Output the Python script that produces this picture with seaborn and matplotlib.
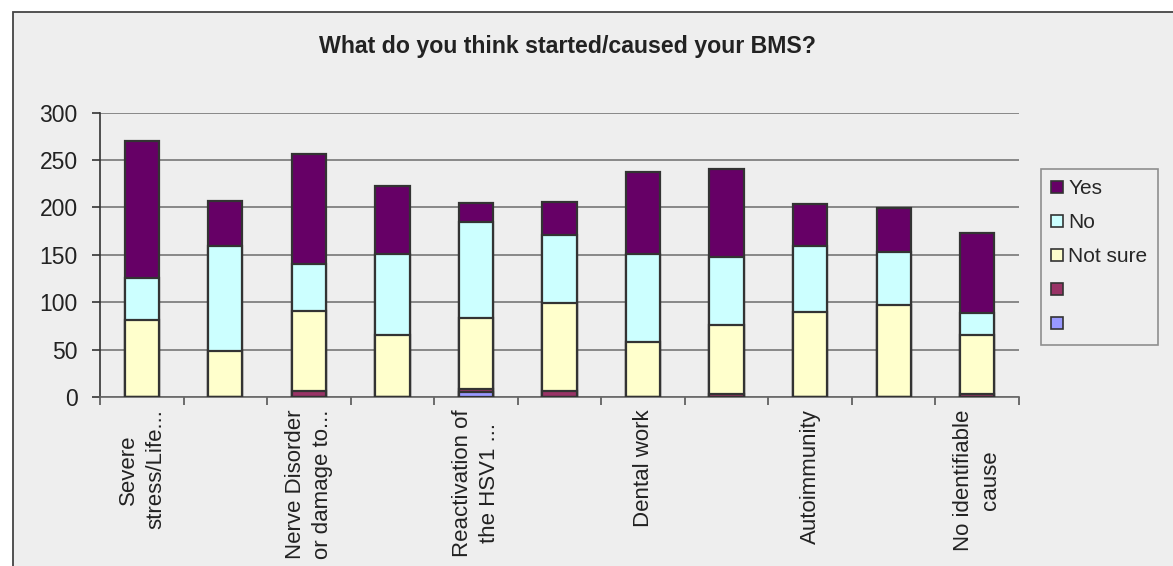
import numpy as np
import pandas as pd
import matplotlib
matplotlib.use("Agg")
import matplotlib.pyplot as plt
from matplotlib.patches import Patch, Rectangle
import seaborn as sns

# Data (stacked from bottom: series5, series4, Not sure, No, Yes)
tick_labels = ["Severe\nstress/Life...", "", "Nerve Disorder\nor damage to...", "",
               "Reactivation of\nthe HSV1 ...", "", "Dental work", "",
               "Autoimmunity", "", "No identifiable\ncause"]
series5 = [0, 0, 0, 0, 5, 0, 0, 0, 0, 0, 0]
series4 = [0, 0, 6, 0, 3, 6, 0, 3, 0, 0, 3]
not_sure = [81, 49, 85, 65, 75, 93, 58, 73, 90, 97, 62]
no = [45, 110, 49, 86, 102, 72, 93, 72, 69, 56, 24]
yes = [144, 48, 116, 71, 20, 35, 86, 92, 44, 46, 84]

series_names = ["", "", "Not sure", "No", "Yes"]
colors = ["#9999FF", "#993366", "#FFFFCC", "#CCFFFF", "#660066"]

sns.set_style("white")
plt.rcParams["font.family"] = ["Liberation Sans", "DejaVu Sans"]

fig = plt.figure(figsize=(11.73, 5.66), dpi=100)
fig.patch.set_facecolor("white")
# outer chart frame
fig.patches.append(Rectangle((13 / 1173, -0.05), 1.1, 1 - 12 / 566 + 0.05,
                             transform=fig.transFigure, facecolor="#EEEEEE",
                             edgecolor="#444444", lw=1.3, zorder=-10))

ax = fig.add_axes([100 / 1173, 1 - 397 / 566, 919 / 1173, 284.5 / 566])
ax.patch.set_alpha(0)

stack = np.cumsum(np.array([series5, series4, not_sure, no, yes]), axis=0)
x = np.arange(len(tick_labels))

# draw cumulative totals, tallest first, so each layer shows as a stacked segment
for i in range(len(stack) - 1, -1, -1):
    sns.barplot(x=x, y=stack[i], color=colors[i], width=0.41, edgecolor="#333333",
                linewidth=1.6, saturation=1, ax=ax, zorder=3)

ax.set_ylim(0, 300)
ax.set_xlim(-0.5, len(x) - 0.5)
ax.set_yticks(range(0, 301, 50))
ax.yaxis.grid(True, color="#777777", linewidth=1.2)
ax.set_axisbelow(True)
for s in ["top", "right"]:
    ax.spines[s].set_visible(False)
ax.spines["left"].set_color("#333333")
ax.spines["bottom"].set_color("#666666")
ax.spines["left"].set_linewidth(1.2)
ax.spines["bottom"].set_linewidth(1.2)

ax.tick_params(axis="y", length=6, width=1.2, color="#333333", pad=10,
               labelsize=16.5, labelcolor="#222222", direction="out", left=True)
ax.set_xticks(x)
ax.set_xticklabels(tick_labels, rotation=90, fontsize=16, color="#222222",
                   va="top", ha="center", multialignment="center", linespacing=1.4)
ax.tick_params(axis="x", length=0, pad=9)
ax.set_xticks(np.arange(-0.5, len(x), 1), minor=True)
ax.tick_params(axis="x", which="minor", length=6, width=1.2, color="#555555",
               direction="out", bottom=True)
ax.set_xlabel("")
ax.set_ylabel("")

fig.text(0.4838, 0.917, "What do you think started/caused your BMS?",
         ha="center", va="center", fontsize=16.7, fontweight="bold", color="#222222")

handles = [Patch(facecolor=colors[i], edgecolor="#333333", linewidth=1.2)
           for i in range(len(colors) - 1, -1, -1)]
labels = [series_names[i] for i in range(len(colors) - 1, -1, -1)]
leg = fig.legend(handles, labels, loc="upper left",
                 bbox_to_anchor=(1041 / 1173, 1 - 169 / 566), frameon=True,
                 fancybox=False, fontsize=15, handlelength=0.55, handleheight=0.55,
                 handletextpad=0.27, labelspacing=0.72, borderpad=0.5,
                 borderaxespad=0)
leg.get_frame().set_edgecolor("#777777")
leg.get_frame().set_facecolor("#EEEEEE")
leg.get_frame().set_linewidth(1.2)

fig.savefig("out.png", dpi=100)
